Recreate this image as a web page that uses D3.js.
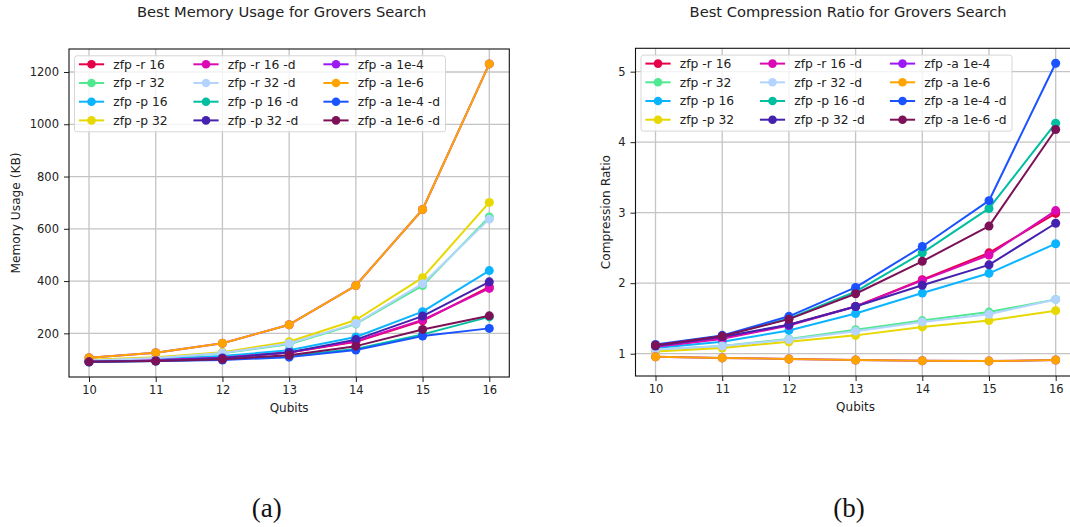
<!DOCTYPE html>
<html>
<head>
<meta charset="utf-8">
<script src="https://cdn.jsdelivr.net/npm/d3@7"></script>
<style>
  html, body { margin: 0; padding: 0; background: #fff; }
  svg { display: block; font-family: "DejaVu Sans", sans-serif; }
</style>
</head>
<body>
<svg id="fig" width="1070" height="527"></svg>
<script>
// Qubit counts on the x axis
const qubits = [10, 11, 12, 13, 14, 15, 16];

// Series names (legend order) and colours
const seriesNames = [
  "zfp -r 16", "zfp -r 32", "zfp -p 16", "zfp -p 32",
  "zfp -r 16 -d", "zfp -r 32 -d", "zfp -p 16 -d", "zfp -p 32 -d",
  "zfp -a 1e-4", "zfp -a 1e-6", "zfp -a 1e-4 -d", "zfp -a 1e-6 -d"
];
const seriesColors = [
  "#e60049", "#50e991", "#0bb4ff", "#e6d800",
  "#dc0ab4", "#b3d4ff", "#00bfa0", "#4421af",
  "#9b19f5", "#ffa300", "#1a53ff", "#7c1158"
];

// Best memory usage (KB), one array per series
const memR16   = [93, 98, 106, 127, 168, 248, 378];
const memR32   = [96, 106, 124, 158, 236, 383, 645];
const memP16   = [94, 101, 113, 135, 186, 283, 440];
const memP32   = [99, 109, 128, 168, 251, 413, 701];
const memR16d  = [93, 98, 107, 127, 170, 251, 372];
const memR32d  = [96, 106, 125, 161, 238, 390, 637];
const memP16d  = [91, 94, 100, 113, 140, 196, 263];
const memP32d  = [92, 95, 106, 127, 176, 266, 397];
const memA1e4  = [107, 126, 162, 233, 383, 674, 1231];
const memA1e6  = [107, 126, 162, 233, 383, 674, 1231];
const memA1e4d = [90, 94, 98, 109, 136, 190, 219];
const memA1e6d = [91, 94, 101, 116, 151, 215, 267];

// Best compression ratio, one array per series
const crR16   = [1.10, 1.22, 1.41, 1.67, 2.05, 2.43, 2.99];
const crR32   = [1.06, 1.11, 1.21, 1.34, 1.47, 1.59, 1.77];
const crP16   = [1.08, 1.17, 1.33, 1.57, 1.86, 2.14, 2.56];
const crP32   = [1.03, 1.08, 1.17, 1.26, 1.38, 1.47, 1.61];
const crR16d  = [1.10, 1.21, 1.40, 1.67, 2.04, 2.40, 3.03];
const crR32d  = [1.06, 1.11, 1.20, 1.32, 1.45, 1.56, 1.77];
const crP16d  = [1.12, 1.25, 1.50, 1.88, 2.43, 3.06, 4.27];
const crP32d  = [1.11, 1.24, 1.41, 1.67, 1.97, 2.26, 2.85];
const crA1e4  = [0.955, 0.94, 0.925, 0.91, 0.90, 0.895, 0.91];
const crA1e6  = [0.955, 0.94, 0.925, 0.91, 0.90, 0.895, 0.91];
const crA1e4d = [1.13, 1.26, 1.53, 1.94, 2.52, 3.17, 5.12];
const crA1e6d = [1.12, 1.25, 1.49, 1.85, 2.31, 2.81, 4.18];

// Tick labels
const xTicks = [10, 11, 12, 13, 14, 15, 16];
const memTicks = [200, 400, 600, 800, 1000, 1200];
const crTicks = [1, 2, 3, 4, 5];

const memSeries = [memR16, memR32, memP16, memP32, memR16d, memR32d, memP16d, memP32d, memA1e4, memA1e6, memA1e4d, memA1e6d];
const crSeries  = [crR16, crR32, crP16, crP32, crR16d, crR32d, crP16d, crP32d, crA1e4, crA1e6, crA1e4d, crA1e6d];

const svg = d3.select("#fig");

function drawPanel(opts) {
  const { left, right, top, bottom, series, yTicks, title, yLabel, yLabelX, caption, captionX } = opts;
  const g = svg.append("g");

  // Matplotlib-style 5% data margins
  const all = series.flat();
  const lo = d3.min(all), hi = d3.max(all);
  const pad = (hi - lo) * 0.05;
  const x = d3.scaleLinear().domain([9.7, 16.3]).range([left, right]);
  const y = d3.scaleLinear().domain([lo - pad, hi + pad]).range([bottom, top]);

  // Clip region for the plot area
  const clipId = "clip" + Math.round(left);
  svg.append("clipPath").attr("id", clipId)
    .append("rect").attr("x", left).attr("y", top)
    .attr("width", right - left).attr("height", bottom - top);

  // Grid
  const grid = g.append("g").attr("clip-path", `url(#${clipId})`);
  grid.selectAll("line.vx").data(xTicks).join("line")
    .attr("x1", d => x(d)).attr("x2", d => x(d))
    .attr("y1", top).attr("y2", bottom)
    .attr("stroke", "#c4c4c4").attr("stroke-width", 1.3);
  grid.selectAll("line.hy").data(yTicks).join("line")
    .attr("x1", left).attr("x2", right)
    .attr("y1", d => y(d)).attr("y2", d => y(d))
    .attr("stroke", "#c4c4c4").attr("stroke-width", 1.3);

  // Series lines + markers, drawn in legend order
  const plot = g.append("g").attr("clip-path", `url(#${clipId})`);
  const line = d3.line().x((d, i) => x(qubits[i])).y(d => y(d));
  series.forEach((vals, k) => {
    const sg = plot.append("g");
    sg.append("path").datum(vals).attr("d", line)
      .attr("fill", "none").attr("stroke", seriesColors[k])
      .attr("stroke-width", 2).attr("stroke-linejoin", "round");
    sg.selectAll("circle").data(vals).join("circle")
      .attr("cx", (d, i) => x(qubits[i])).attr("cy", d => y(d))
      .attr("r", 4.5).attr("fill", seriesColors[k]);
  });

  // Axes
  const xAxis = d3.axisBottom(x).tickValues(xTicks).tickSize(5).tickPadding(4).tickFormat(d3.format("d"));
  const yAxis = d3.axisLeft(y).tickValues(yTicks).tickSize(5).tickPadding(5).tickFormat(d3.format("d"));
  const gx = g.append("g").attr("transform", `translate(0,${bottom})`).call(xAxis);
  const gy = g.append("g").attr("transform", `translate(${left},0)`).call(yAxis);
  [gx, gy].forEach(a => {
    a.select(".domain").remove();
    a.selectAll("line").attr("stroke", "#222").attr("stroke-width", 1);
    a.selectAll("text").attr("font-size", 11.5).attr("fill", "#222")
      .attr("font-family", "DejaVu Sans");
  });

  // Frame
  g.append("rect").attr("x", left).attr("y", top)
    .attr("width", right - left).attr("height", bottom - top)
    .attr("fill", "none").attr("stroke", "#111").attr("stroke-width", 1.1);

  // Legend
  const lg = g.append("g").attr("transform", `translate(${left + 5.5},${top + 6.8})`);
  lg.append("rect").attr("width", 371).attr("height", 76).attr("rx", 2.5)
    .attr("fill", "#fff").attr("fill-opacity", 0.8)
    .attr("stroke", "#d6d6d6").attr("stroke-width", 1);
  const colX = [17, 131.5, 261.5];
  seriesNames.forEach((name, k) => {
    const col = Math.floor(k / 4), row = k % 4;
    const cx = colX[col], cy = 8.5 + row * 18.7;
    lg.append("line").attr("x1", cx - 12.6).attr("x2", cx + 12.6)
      .attr("y1", cy).attr("y2", cy)
      .attr("stroke", seriesColors[k]).attr("stroke-width", 2);
    lg.append("circle").attr("cx", cx).attr("cy", cy).attr("r", 4.3)
      .attr("fill", seriesColors[k]);
    lg.append("text").attr("x", cx + 21.8).attr("y", cy).attr("dy", "0.36em")
      .attr("font-size", 12.3).attr("fill", "#222").text(name);
  });

  // Titles and labels
  g.append("text").attr("x", (left + right) / 2 - 7.5).attr("y", 17)
    .attr("text-anchor", "middle").attr("font-size", 14.7).attr("fill", "#222").text(title);
  g.append("text").attr("x", (left + right) / 2).attr("y", bottom + 35)
    .attr("text-anchor", "middle").attr("font-size", 12).attr("fill", "#222").text("Qubits");
  g.append("text")
    .attr("transform", `translate(${yLabelX},${(top + bottom) / 2}) rotate(-90)`)
    .attr("text-anchor", "middle").attr("dy", "0.36em")
    .attr("font-size", 12.2).attr("fill", "#222").text(yLabel);

  // Sub-figure caption
  g.append("text").attr("x", captionX).attr("y", 517)
    .attr("text-anchor", "middle").attr("font-family", "Liberation Serif, serif")
    .attr("font-size", 27).attr("fill", "#111").text(caption);
}

drawPanel({
  left: 69, right: 509.3, top: 49, bottom: 377,
  series: memSeries, yTicks: memTicks,
  title: "Best Memory Usage for Grovers Search",
  yLabel: "Memory Usage (KB)", yLabelX: 16, caption: "(a)", captionX: 266.7
});

drawPanel({
  left: 635.5, right: 1075.7, top: 48.3, bottom: 376,
  series: crSeries, yTicks: crTicks,
  title: "Best Compression Ratio for Grovers Search",
  yLabel: "Compression Ratio", yLabelX: 606, caption: "(b)", captionX: 849
});
</script>
</body>
</html>
